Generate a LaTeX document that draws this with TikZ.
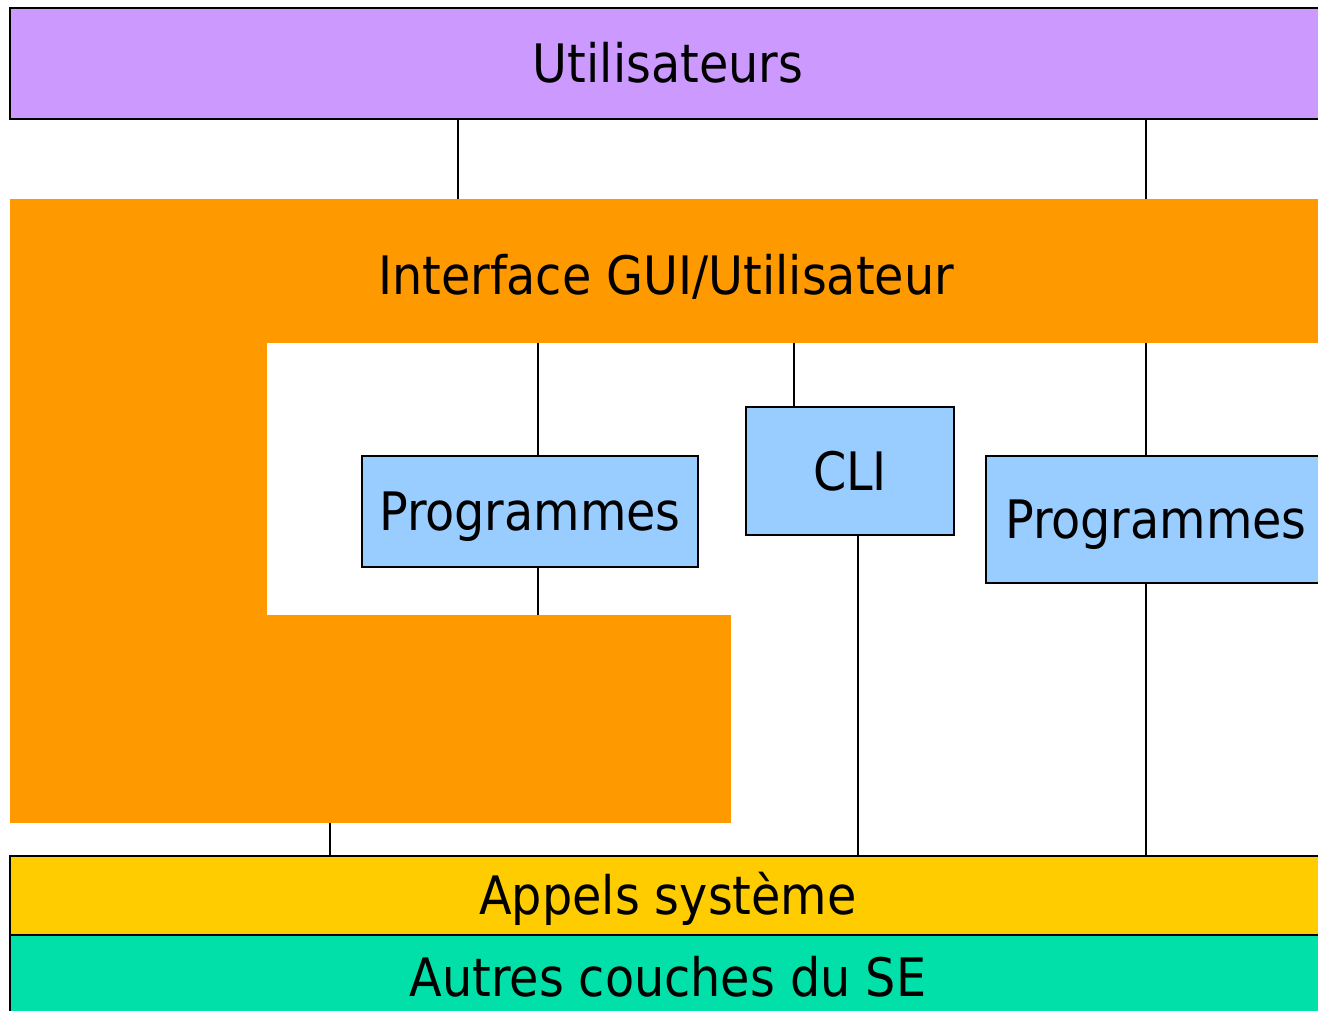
\documentclass[tikz,border=0pt]{standalone}
\usepackage{fontspec}
\setmainfont{DejaVu Sans Condensed}
\definecolor{cpurple}{HTML}{CC99FF}
\definecolor{corange}{HTML}{FF9900}
\definecolor{cblue}{HTML}{99CCFF}
\definecolor{cyellow}{HTML}{FFCC00}
\definecolor{cgreen}{HTML}{00E0A8}
\begin{document}
\begin{tikzpicture}[x=1pt,y=-1pt,
  lbl/.style={font=\fontsize{53}{62}\selectfont, text=black, text height=38.7pt, text depth=0pt},
  layer/.style={lbl, rectangle, draw=black, line width=2pt, inner sep=0pt, outer sep=0pt},
  plain/.style={lbl, rectangle, draw=none, inner sep=0pt, outer sep=0pt},
  link/.style={draw=black, line width=2pt}]
\useasboundingbox (0,0) rectangle (1318,1011);
\fill[white] (0,0) rectangle (1318,1011);
\clip (0,0) rectangle (1318,1011);
% upper layer
\node[layer, fill=cpurple, minimum width=1316pt, minimum height=111pt] (util) at (668,63.5) {Utilisateurs};
% GUI shape
\node[plain, fill=corange, minimum width=1316pt, minimum height=144pt] (gui) at (668,271) {};
\node[lbl, inner sep=0pt] (guitext) at (666,275) {Interface GUI/Utilisateur};
\fill[corange] (10,342) rectangle (267,616);
\node[plain, fill=corange, minimum width=721pt, minimum height=208pt] (guib) at (370.5,719) {};
% programs
\node[layer, fill=cblue, minimum width=336pt, minimum height=111pt] (prog1) at (530,511.5) {Programmes};
\node[layer, fill=cblue, minimum width=208pt, minimum height=128pt] (cli) at (850,471) {CLI};
\node[layer, fill=cblue, minimum width=340pt, minimum height=127pt] (prog2) at (1156,519.5) {Programmes};
% lower layers
\node[layer, fill=cyellow, minimum width=1316pt, minimum height=79pt] (appels) at (668,895.5) {Appels système};
\node[layer, fill=cgreen, minimum width=1316pt, minimum height=85pt] (autres) at (668,977.5) {Autres couches du SE};
% x positions of connectors
\coordinate (xa) at (458,0);
\coordinate (xb) at (1146,0);
\coordinate (xc) at (538,0);
\coordinate (xd) at (794,0);
\coordinate (xe) at (858,0);
\coordinate (xf) at (330,0);
% connectors
\draw[link] (util.south -| xa) -- (gui.north -| xa);
\draw[link] (util.south -| xb) -- (gui.north -| xb);
\draw[link] (gui.south -| xc) -- (prog1.north -| xc);
\draw[link] (gui.south -| xd) -- (cli.north -| xd);
\draw[link] (gui.south -| xb) -- (prog2.north -| xb);
\draw[link] (prog1.south -| xc) -- (guib.north -| xc);
\draw[link] (cli.south -| xe) -- (appels.north -| xe);
\draw[link] (prog2.south -| xb) -- (appels.north -| xb);
\draw[link] (guib.south -| xf) -- (appels.north -| xf);
\end{tikzpicture}
\end{document}
